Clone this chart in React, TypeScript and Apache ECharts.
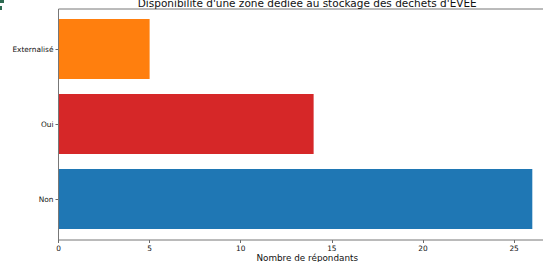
import React, { useEffect, useRef } from "react";
import * as echarts from "echarts";

const categories = ["Non", "Oui", "Externalisé"];
const values = [26, 14, 5];
const barColors = ["#1f77b4", "#d62728", "#ff7f0e"];
const xTicks = [0, 5, 10, 15, 20, 25];
const title = "Disponibilité d'une zone dédiée au stockage des déchets d'EVEE";
const xLabel = "Nombre de répondants";

const FONT = "DejaVu Sans";

export default function App() {
  const ref = useRef<HTMLDivElement>(null);
  useEffect(() => {
    if (!ref.current) return;
    const chart = echarts.init(ref.current, null, { renderer: "svg" });
    const W = 580;
    const plotLeft = 58.5;
    const plotRight = 556;
    const plotTop = 9;
    const plotBottom = 240;
    chart.setOption({
      animation: false,
      backgroundColor: "#ffffff",
      grid: {
        left: plotLeft,
        right: W - plotRight,
        top: 11.5,
        bottom: 262 - 236.5,
        containLabel: false,
        outerBoundsMode: "none",
      },
      xAxis: {
        type: "value",
        min: 0,
        max: 27.3,
        interval: 5,
        offset: 3.5,
        splitLine: { show: false },
        axisLine: { show: false },
        axisTick: { show: true, length: 3, lineStyle: { color: "#444", width: 0.8 } },
        axisLabel: {
          margin: 5,
          fontFamily: FONT,
          fontSize: 7.4,
          color: "#111",
          formatter: (v: number) => (xTicks.includes(v) ? String(v) : ""),
        },
      },
      yAxis: {
        type: "category",
        data: categories,
        axisLine: { show: false },
        axisTick: { show: true, length: 3, alignWithLabel: true, lineStyle: { color: "#444", width: 0.8 } },
        axisLabel: { margin: 5, fontFamily: FONT, fontSize: 7.4, color: "#111" },
        splitLine: { show: false },
      },
      series: [
        {
          type: "bar",
          data: values.map((v, i) => ({ value: v, itemStyle: { color: barColors[i] } })),
          barCategoryGap: "20%",
        },
      ],
      graphic: [
        {
          type: "rect",
          shape: { x: plotLeft, y: plotTop, width: plotRight - plotLeft, height: plotBottom - plotTop },
          style: { fill: "none", stroke: "#777", lineWidth: 1 },
          silent: true,
          z: 10,
        },
        {
          type: "text",
          x: (plotLeft + plotRight) / 2,
          y: 8,
          style: {
            text: title,
            fontFamily: FONT,
            fontSize: 10.5,
            fill: "#111",
            align: "center",
            verticalAlign: "bottom",
          },
          z: 10,
        },
        {
          type: "text",
          x: (plotLeft + plotRight) / 2,
          y: 257.5,
          style: {
            text: xLabel,
            fontFamily: FONT,
            fontSize: 8.8,
            fill: "#111",
            align: "center",
            verticalAlign: "middle",
          },
          z: 10,
        },
        {
          type: "rect",
          shape: { x: 0, y: 0, width: 4, height: 3 },
          style: { fill: "#2e6b52" },
          z: 10,
        },
        {
          type: "rect",
          shape: { x: 0, y: 6, width: 2, height: 4 },
          style: { fill: "#2e6b52" },
          z: 10,
        },
      ],
    });
    return () => chart.dispose();
  }, []);
  return (
    <div style={{ position: "fixed", left: 0, top: 0, width: 543, height: 262, overflow: "hidden", background: "#fff" }}>
      <div ref={ref} style={{ width: 580, height: 262 }} />
    </div>
  );
}
